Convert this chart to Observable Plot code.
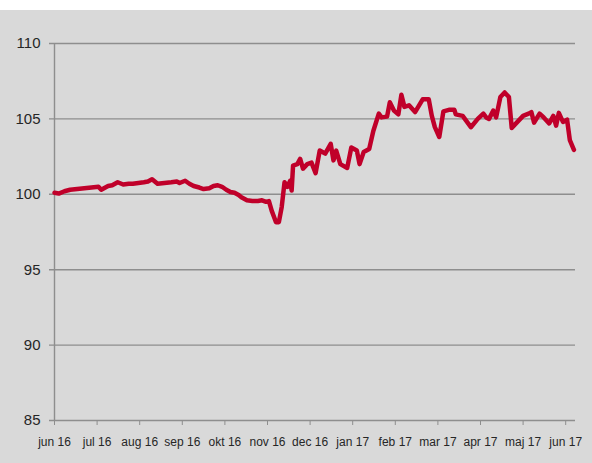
<!DOCTYPE html>
<html><head><meta charset="utf-8">
<script src="https://cdn.jsdelivr.net/npm/d3@7"></script>
<script src="https://cdn.jsdelivr.net/npm/@observablehq/plot@0.6"></script>
<style>
html,body{margin:0;padding:0;background:#fff;}
#chart{position:absolute;left:0;top:10px;width:592px;height:453px;background:#d9d9d9;overflow:hidden;}
</style></head><body><div id="chart"></div>
<script>
const dates = [
"2016-06-01","2016-06-04","2016-06-08","2016-06-12","2016-06-17","2016-06-22","2016-06-27","2016-07-02","2016-07-04","2016-07-09",
"2016-07-12","2016-07-16","2016-07-20","2016-07-24","2016-07-27","2016-07-31","2016-08-04","2016-08-07","2016-08-10","2016-08-14",
"2016-08-19","2016-08-24","2016-08-28","2016-08-30","2016-09-03","2016-09-06","2016-09-09","2016-09-13","2016-09-16","2016-09-20",
"2016-09-23","2016-09-26","2016-09-29","2016-10-02","2016-10-05","2016-10-08","2016-10-11","2016-10-13","2016-10-17","2016-10-21",
"2016-10-25","2016-10-28","2016-10-31","2016-11-02","2016-11-04","2016-11-07","2016-11-09","2016-11-11","2016-11-13","2016-11-15",
"2016-11-17","2016-11-18","2016-11-19","2016-11-22","2016-11-24","2016-11-26","2016-11-29","2016-12-02","2016-12-05","2016-12-08",
"2016-12-12","2016-12-16","2016-12-18","2016-12-20","2016-12-23","2016-12-28","2016-12-31","2017-01-04","2017-01-06","2017-01-09",
"2017-01-13","2017-01-16","2017-01-20","2017-01-22","2017-01-26","2017-01-28","2017-01-31","2017-02-03","2017-02-05","2017-02-07",
"2017-02-10","2017-02-14","2017-02-19","2017-02-23","2017-02-25","2017-02-27","2017-03-02","2017-03-05","2017-03-09","2017-03-13",
"2017-03-14","2017-03-19","2017-03-25","2017-03-30","2017-04-03","2017-04-05","2017-04-07","2017-04-10","2017-04-12","2017-04-15",
"2017-04-18","2017-04-21","2017-04-23","2017-04-27","2017-05-01","2017-05-05","2017-05-07","2017-05-09","2017-05-13","2017-05-16",
"2017-05-20","2017-05-23","2017-05-25","2017-05-27","2017-05-30","2017-06-02","2017-06-04","2017-06-07"
];
const values = [
100.1,100.05,100.2,100.3,100.35,100.4,100.45,100.5,100.3,100.55,
100.6,100.8,100.65,100.7,100.7,100.75,100.8,100.85,101.0,100.7,
100.75,100.8,100.85,100.75,100.9,100.7,100.55,100.45,100.35,100.4,
100.55,100.6,100.5,100.3,100.15,100.1,99.95,99.8,99.6,99.55,
99.55,99.6,99.5,99.55,98.9,98.15,98.15,99.15,100.8,100.5,
100.9,100.25,101.9,102.0,102.35,101.7,102.0,102.1,101.4,102.9,
102.7,103.35,102.25,102.9,102.0,101.75,103.1,102.9,102.0,102.8,
103.0,104.2,105.35,105.1,105.15,106.1,105.55,105.3,106.6,105.8,
105.9,105.45,106.3,106.3,105.2,104.45,103.8,105.5,105.6,105.6,
105.3,105.2,104.45,105.0,105.35,105.1,105.0,105.55,105.1,106.45,
106.75,106.45,104.4,104.8,105.2,105.35,105.45,104.75,105.35,105.1,
104.7,105.2,104.55,105.4,104.8,104.95,103.6,102.95
];
const yTicks = [85, 90, 95, 100, 105, 110];
const monthTicks = ["2016-06-01","2016-07-01","2016-08-01","2016-09-01","2016-10-01","2016-11-01","2016-12-01",
"2017-01-01","2017-02-01","2017-03-01","2017-04-01","2017-05-01","2017-06-01"];
const monthLabels = ["jun 16","jul 16","aug 16","sep 16","okt 16","nov 16","dec 16",
"jan 17","feb 17","mar 17","apr 17","maj 17","jun 17"];
const lastDate = "2017-06-08";

const data = dates.map((d, i) => ({date: new Date(d), value: values[i]}));
const tickDates = monthTicks.map(d => new Date(d));
const gray = "#8e8e8e";

// equal spacing per month, as in the original category-style date axis
const x0 = 54, step = 42.6;
const xDomain = [...tickDates, new Date(lastDate)];
const xRange = [...tickDates.map((d, i) => x0 + i * step), x0 + 12 * step + 7 * step / 31];

const plot = Plot.plot({
  width: 592, height: 453,
  marginTop: 33, marginBottom: 43, marginLeft: 54, marginRight: 17,
  style: {background: "transparent", fontFamily: "'Liberation Sans', Arial, sans-serif", color: "#262626"},
  x: {type: "utc", domain: xDomain, range: xRange},
  y: {domain: [85, 110]},
  marks: [
    Plot.ruleY(yTicks.slice(1), {stroke: gray, strokeWidth: 1.4, insetLeft: -5}),
    Plot.ruleY([85], {stroke: gray, strokeWidth: 1.4, insetLeft: -5}),
    Plot.ruleX([tickDates[0]], {stroke: gray, strokeWidth: 1.4}),
    Plot.axisY({ticks: yTicks, tickSize: 0, tickPadding: 14, fontSize: 15, label: null}),
    Plot.axisX({ticks: tickDates, tickSize: 5, tickPadding: 12, fontSize: 12, label: null, stroke: gray,
      tickFormat: d => monthLabels[tickDates.findIndex(t => +t === +d)]}),
    Plot.lineY(data, {x: "date", y: "value", stroke: "#c0002a", strokeWidth: 4.5, strokeLinejoin: "round", strokeLinecap: "round"})
  ]
});
document.getElementById("chart").appendChild(plot);
</script></body></html>
